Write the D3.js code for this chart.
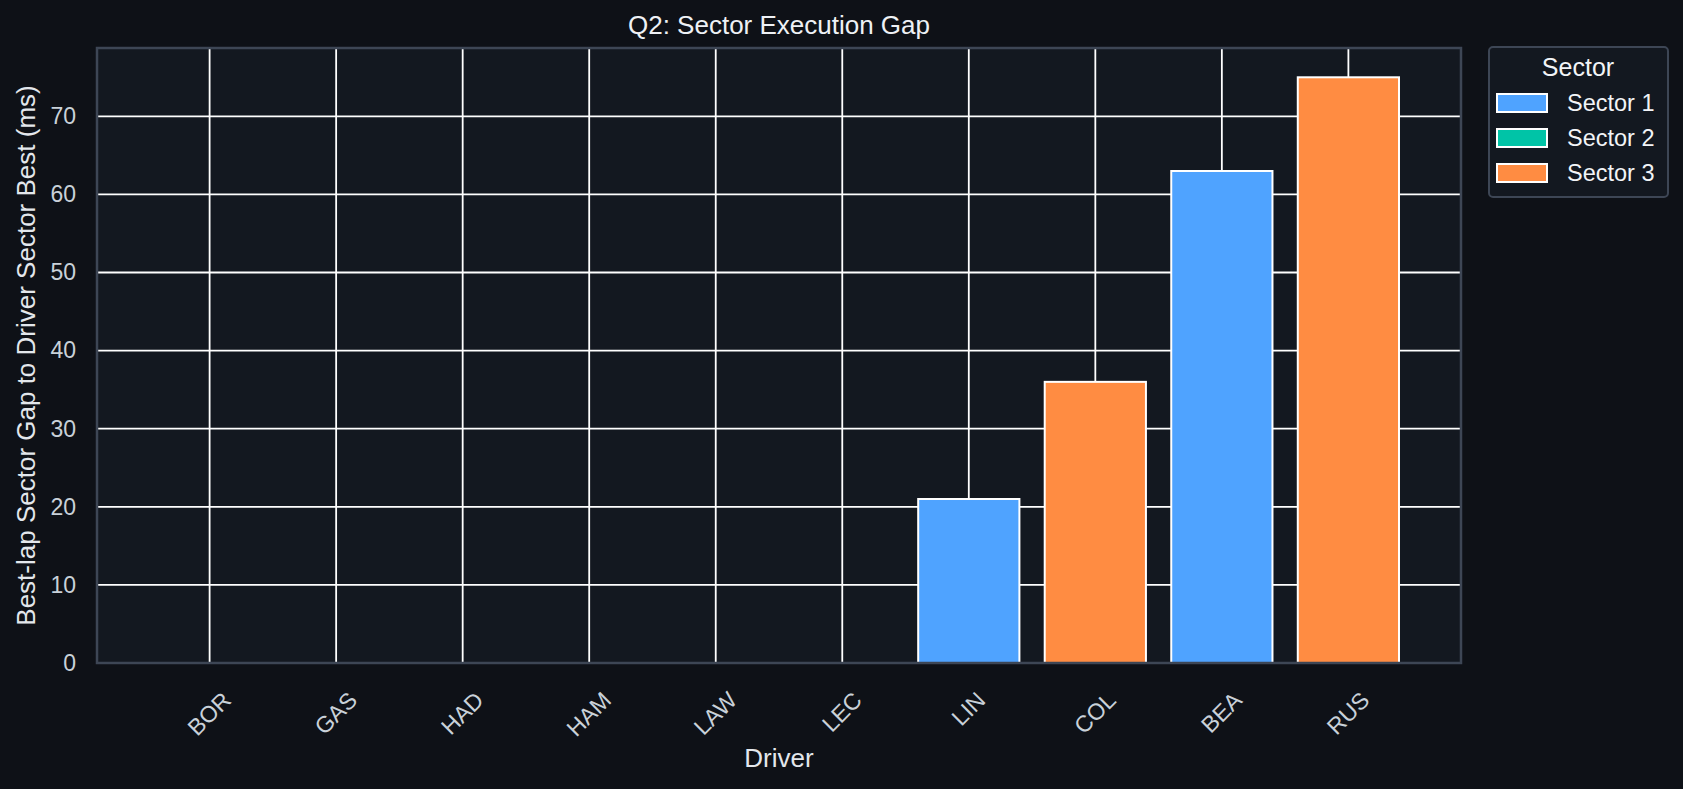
<!DOCTYPE html>
<html lang="en">
  <head>
    <meta charset="utf-8">
    <title>Q2: Sector Execution Gap</title>
    <script src="https://d3js.org/d3.v7.min.js"></script>
    <style>
      body { margin: 0; background: #0e1117; }
      svg { display: block; font-family: "Liberation Sans", Arial, sans-serif; }
    </style>
  </head>
  <body>
    <script>

  // data
  var drivers = ["BOR", "GAS", "HAD", "HAM", "LAW", "LEC", "LIN", "COL", "BEA", "RUS"];
  var gaps = [0, 0, 0, 0, 0, 0, 21, 36, 63, 75];
  var worstSector = ["Sector 1", "Sector 1", "Sector 1", "Sector 1", "Sector 1", "Sector 1",
                     "Sector 1", "Sector 3", "Sector 1", "Sector 3"];
  var sectors = ["Sector 1", "Sector 2", "Sector 3"];
  var sectorColors = ["#4fa3ff", "#00c4a7", "#ff8c42"];
  var yTicks = [0, 10, 20, 30, 40, 50, 60, 70];

  // size
  var w = 1683;
  var h = 789;
  var margin = {top: 48, right: 222, bottom: 126, left: 97};
  var innerWidth = w - margin.left - margin.right;
  var innerHeight = h - margin.top - margin.bottom;
  var font = '"Liberation Sans", Arial, sans-serif';

  var rows = drivers.map((d, i) => ({driver: d, gap: gaps[i], sector: worstSector[i]}));

  // scales (matplotlib style: bar width 0.8, 5% margins)
  var lo = -0.4, hi = drivers.length - 1 + 0.4, pad = (hi - lo) * 0.05;
  var xScale = d3.scaleLinear()
    .domain([lo - pad, hi + pad])
    .range([0, innerWidth]);

  var yScale = d3.scaleLinear()
    .domain([0, d3.max(gaps) * 1.05])
    .range([innerHeight, 0]);

  var colors = d3.scaleOrdinal().domain(sectors).range(sectorColors);

  var svg = d3.select("body")
    .append("svg")
    .attr("width", w)
    .attr("height", h);

  svg.append("rect")
    .attr("width", w)
    .attr("height", h)
    .attr("fill", "#0e1117");

  var g = svg.append("g")
    .attr("transform", `translate(${margin.left}, ${margin.top})`);

  g.append("rect")
    .attr("width", innerWidth)
    .attr("height", innerHeight)
    .attr("fill", "#131820");

  // grid
  g.append("g")
    .selectAll("line")
    .data(yTicks)
    .enter()
    .append("line")
    .attr("x1", 0)
    .attr("x2", innerWidth)
    .attr("y1", d => yScale(d))
    .attr("y2", d => yScale(d))
    .attr("stroke", "#ffffff")
    .attr("stroke-width", 1.8);

  g.append("g")
    .selectAll("line")
    .data(drivers)
    .enter()
    .append("line")
    .attr("x1", (d, i) => xScale(i))
    .attr("x2", (d, i) => xScale(i))
    .attr("y1", 0)
    .attr("y2", innerHeight)
    .attr("stroke", "#ffffff")
    .attr("stroke-width", 1.8);

  // bars
  var bw = xScale(0.8) - xScale(0);
  g.append("g")
    .selectAll("rect")
    .data(rows)
    .enter()
    .append("rect")
    .attr("x", (d, i) => xScale(i) - bw / 2)
    .attr("y", d => yScale(d.gap))
    .attr("width", bw)
    .attr("height", d => yScale(0) - yScale(d.gap))
    .attr("fill", d => colors(d.sector))
    .attr("stroke", "#ffffff")
    .attr("stroke-opacity", d => d.gap === 0 ? 0.3 : 1)
    .attr("stroke-width", 2);

  // spines
  g.append("rect")
    .attr("width", innerWidth)
    .attr("height", innerHeight)
    .attr("fill", "none")
    .attr("stroke", "#3d4655")
    .attr("stroke-width", 2.5);

  // y axis
  var yAxis = d3.axisLeft(yScale)
    .tickValues(yTicks)
    .tickSize(0)
    .tickPadding(21);

  var yg = g.append("g").call(yAxis)
    .attr("font-family", font)
    .attr("font-size", 23);
  yg.select(".domain").remove();
  yg.selectAll("text")
    .attr("fill", "#c9d1d9");

  // x axis, rotated labels
  var xAxis = d3.axisBottom(xScale)
    .tickValues(d3.range(drivers.length))
    .tickFormat(i => drivers[i])
    .tickSize(0);

  var xg = g.append("g")
    .attr("transform", `translate(0, ${innerHeight})`)
    .call(xAxis)
    .attr("font-family", font)
    .attr("font-size", 23);
  xg.select(".domain").remove();
  xg.selectAll("text")
    .attr("fill", "#c9d1d9")
    .attr("y", 0)
    .attr("dy", "0.35em")
    .attr("text-anchor", "middle")
    .attr("transform", function() {
      var tw = this.getComputedTextLength();
      return `translate(-1, ${33 + tw / 2.828}) rotate(-45)`;
    });

  // titles
  svg.append("text")
    .attr("x", margin.left + innerWidth / 2)
    .attr("y", 34)
    .attr("text-anchor", "middle")
    .attr("fill", "#eef1f5")
    .style("font-size", "26px")
    .text("Q2: Sector Execution Gap");

  svg.append("text")
    .attr("x", margin.left + innerWidth / 2)
    .attr("y", 767)
    .attr("text-anchor", "middle")
    .attr("fill", "#e3e7ec")
    .style("font-size", "26px")
    .text("Driver");

  svg.append("text")
    .attr("transform", `translate(35, ${margin.top + innerHeight / 2}) rotate(-90)`)
    .attr("text-anchor", "middle")
    .attr("fill", "#e3e7ec")
    .style("font-size", "26px")
    .text("Best-lap Sector Gap to Driver Sector Best (ms)");

  // legend
  var legend = svg.append("g")
    .attr("transform", "translate(1489, 47)");

  legend.append("rect")
    .attr("width", 179)
    .attr("height", 150)
    .attr("rx", 4)
    .attr("fill", "#131820")
    .attr("stroke", "#3d4655")
    .attr("stroke-width", 2);

  legend.append("text")
    .attr("x", 89)
    .attr("y", 29)
    .attr("text-anchor", "middle")
    .attr("fill", "#f2f4f7")
    .style("font-size", "25px")
    .text("Sector");

  var items = legend.selectAll(".item")
    .data(sectors)
    .enter()
    .append("g")
    .attr("class", "item")
    .attr("transform", (d, i) => `translate(8, ${47 + i * 35})`);

  items.append("rect")
    .attr("width", 50)
    .attr("height", 18)
    .attr("fill", d => colors(d))
    .attr("stroke", "#ffffff")
    .attr("stroke-width", 2);

  items.append("text")
    .attr("x", 70)
    .attr("y", 9)
    .attr("dy", "0.35em")
    .attr("fill", "#f2f4f7")
    .style("font-size", "23.5px")
    .text(d => d);

    </script>
  </body>
</html>
